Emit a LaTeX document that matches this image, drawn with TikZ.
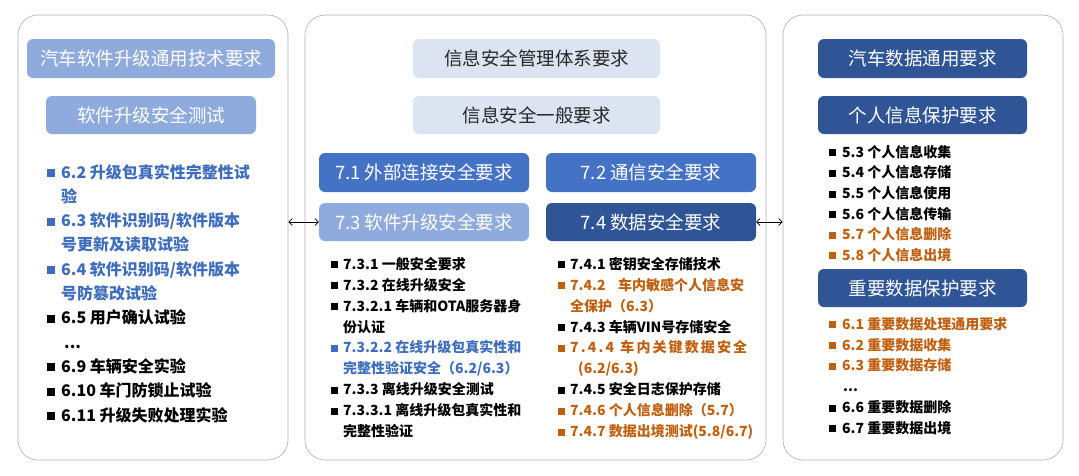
\documentclass[tikz,border=0pt]{standalone}
\usepackage{fontspec}
\setmainfont{Noto Sans CJK SC}
\usetikzlibrary{arrows.meta}
\definecolor{lightblue}{HTML}{8FAADC}
\definecolor{midblue}{HTML}{4472C4}
\definecolor{darkblue}{HTML}{2F5597}
\definecolor{paleblue}{HTML}{DCE4F2}
\definecolor{itemblue}{HTML}{3F6DBE}
\definecolor{itemorange}{HTML}{C0600F}
\definecolor{panelline}{HTML}{A9AEB5}
\newcommand\sqb[1]{\makebox[#1][l]{\rule[0.06em]{0.5em}{0.5em}}}
\tikzset{
  panel/.style={draw=panelline, line width=0.6pt, rounded corners=20pt, fill=white, inner sep=0pt},
  hdr/.style={rounded corners=6pt, inner sep=0pt, text=white, font=\fontsize{18.5}{20}\selectfont},
  hlight/.style={hdr, fill=lightblue},
  hpale/.style={hdr, fill=paleblue, text=black!85},
  hmid/.style={hdr, fill=midblue},
  hdark/.style={hdr, fill=darkblue},
  itemL/.style={anchor=base west, inner sep=0pt, font=\bfseries\fontsize{16}{16}\selectfont},
  itemS/.style={anchor=base west, inner sep=0pt, font=\bfseries\fontsize{14}{14}\selectfont},
  dbl/.style={{Straight Barb[length=3.5pt,width=7pt]}-{Straight Barb[length=3.5pt,width=7pt]}, line width=0.7pt, black}
}
\begin{document}
\begin{tikzpicture}[x=1pt,y=-1pt]
\useasboundingbox[fill=white] (0,0) rectangle (1079,475);
% panels
\node[panel, minimum width=270pt, minimum height=445pt] (lp) at (153,237.5) {};
\node[panel, minimum width=461pt, minimum height=445pt] (mp) at (535.5,237.5) {};
\node[panel, minimum width=280pt, minimum height=445pt] (rp) at (923,237.5) {};
% left headers
\node[hlight, minimum width=248pt, minimum height=39pt] (h1) at (151,58.5) {汽车软件升级通用技术要求};
\node[hlight, minimum width=210pt, minimum height=38pt] (h2) at (151,115) {软件升级安全测试};
% middle headers
\node[hpale, minimum width=247pt, minimum height=39pt] (m1) at (536.5,58.5) {信息安全管理体系要求};
\node[hpale, minimum width=247pt, minimum height=38pt] (m2) at (536.5,115) {信息安全一般要求};
\node[hmid, minimum width=210pt, minimum height=39pt] (b71) at (424,172.5) {7.1 外部连接安全要求};
\node[hmid, minimum width=210pt, minimum height=39pt] (b72) at (651,172.5) {7.2 通信安全要求};
\node[hlight, minimum width=210pt, minimum height=38pt] (b73) at (424,222) {7.3 软件升级安全要求};
\node[hdark, minimum width=210pt, minimum height=38pt] (b74) at (651,222) {7.4 数据安全要求};
% right headers
\node[hdark, minimum width=209pt, minimum height=39pt] (r1) at (922.5,58.5) {汽车数据通用要求};
\node[hdark, minimum width=209pt, minimum height=38pt] (r2) at (922.5,115) {个人信息保护要求};
\node[hdark, minimum width=209pt, minimum height=38pt] (r3) at (922.5,288) {重要数据保护要求};
% connectors
\draw[dbl] (lp.east |- b73.west) -- (b73.west);
\draw[dbl] (b74.east) -- (rp.west |- b74.east);
% left items
\node[itemL, text=itemblue] (l1) at (47,178) {\sqb{14pt}6.2 升级包真实性完整性试};
\node[itemL, text=itemblue] (l1b) at (61,202.3) {验};
\node[itemL, text=itemblue] (l2) at (47,226.6) {\sqb{14pt}6.3 软件识别码/软件版本};
\node[itemL, text=itemblue] (l2b) at (61,250.9) {号更新及读取试验};
\node[itemL, text=itemblue] (l3) at (47,275.2) {\sqb{14pt}6.4 软件识别码/软件版本};
\node[itemL, text=itemblue] (l3b) at (61,299.5) {号防篡改试验};
\node[itemL] (l4) at (47,323.8) {\sqb{14pt}6.5 用户确认试验};
\node[itemL] (ld) at (64,348.1) {...};
\node[itemL] (l5) at (47,372.4) {\sqb{14pt}6.9 车辆安全实验};
\node[itemL] (l6) at (47,396.7) {\sqb{14pt}6.10 车门防锁止试验};
\node[itemL] (l7) at (47,421) {\sqb{14pt}6.11 升级失败处理实验};
% middle left items
\node[itemS] (ma1) at (331,269.3) {\sqb{12pt}7.3.1 一般安全要求};
\node[itemS] (ma2) at (331,290.2) {\sqb{12pt}7.3.2 在线升级安全};
\node[itemS] (ma3) at (331,311.1) {\sqb{12pt}7.3.2.1 车辆和OTA服务器身};
\node[itemS] (ma3b) at (343,332.0) {份认证};
\node[itemS, text=itemblue] (ma4) at (331,352.9) {\sqb{12pt}7.3.2.2 在线升级包真实性和};
\node[itemS, text=itemblue] (ma4b) at (343,373.8) {完整性验证安全（6.2/6.3）};
\node[itemS] (ma5) at (331,394.7) {\sqb{12pt}7.3.3 离线升级安全测试};
\node[itemS] (ma6) at (331,415.6) {\sqb{12pt}7.3.3.1 离线升级包真实性和};
\node[itemS] (ma6b) at (343,436.5) {完整性验证};
% middle right items
\node[itemS] (mb1) at (558,269.3) {\sqb{12pt}7.4.1 密钥安全存储技术};
\node[itemS, text=itemorange] (mb2) at (558,290.2) {\sqb{12pt}7.4.2\hspace{0.9em}车内敏感个人信息安};
\node[itemS, text=itemorange] (mb2b) at (570,311.1) {全保护（6.3）};
\node[itemS] (mb3) at (558,332.0) {\sqb{12pt}7.4.3 车辆VIN号存储安全};
\node[itemS, text=itemorange] (mb4) at (558,352.9) {\sqb{12pt}\makebox[177pt][s]{7\hfill.\hfill4\hfill.\hfill4\hfill\hfill\hfill 车\hfill 内\hfill 关\hfill 键\hfill 数\hfill 据\hfill 安\hfill 全}};
\node[itemS, text=itemorange] (mb4b) at (578,373.8) {(6.2/6.3)};
\node[itemS] (mb5) at (558,394.7) {\sqb{12pt}7.4.5 安全日志保护存储};
\node[itemS, text=itemorange] (mb6) at (558,415.6) {\sqb{12pt}7.4.6 个人信息删除（5.7）};
\node[itemS, text=itemorange] (mb7) at (558,436.5) {\sqb{12pt}7.4.7 数据出境测试(5.8/6.7)};
% right items
\node[itemS] (ra1) at (829,157.3) {\sqb{13pt}5.3 个人信息收集};
\node[itemS] (ra2) at (829,177.9) {\sqb{13pt}5.4 个人信息存储};
\node[itemS] (ra3) at (829,198.5) {\sqb{13pt}5.5 个人信息使用};
\node[itemS] (ra4) at (829,219.1) {\sqb{13pt}5.6 个人信息传输};
\node[itemS, text=itemorange] (ra5) at (829,239.7) {\sqb{13pt}5.7 个人信息删除};
\node[itemS, text=itemorange] (ra6) at (829,260.3) {\sqb{13pt}5.8 个人信息出境};
\node[itemS, text=itemorange] (rb1) at (829,329.3) {\sqb{13pt}6.1 重要数据处理通用要求};
\node[itemS, text=itemorange] (rb2) at (829,350.1) {\sqb{13pt}6.2 重要数据收集};
\node[itemS, text=itemorange] (rb3) at (829,370.9) {\sqb{13pt}6.3 重要数据存储};
\node[itemS] (rbd) at (843,391.7) {...};
\node[itemS] (rb4) at (829,412.5) {\sqb{13pt}6.6 重要数据删除};
\node[itemS] (rb5) at (829,433.3) {\sqb{13pt}6.7 重要数据出境};
\end{tikzpicture}
\end{document}
